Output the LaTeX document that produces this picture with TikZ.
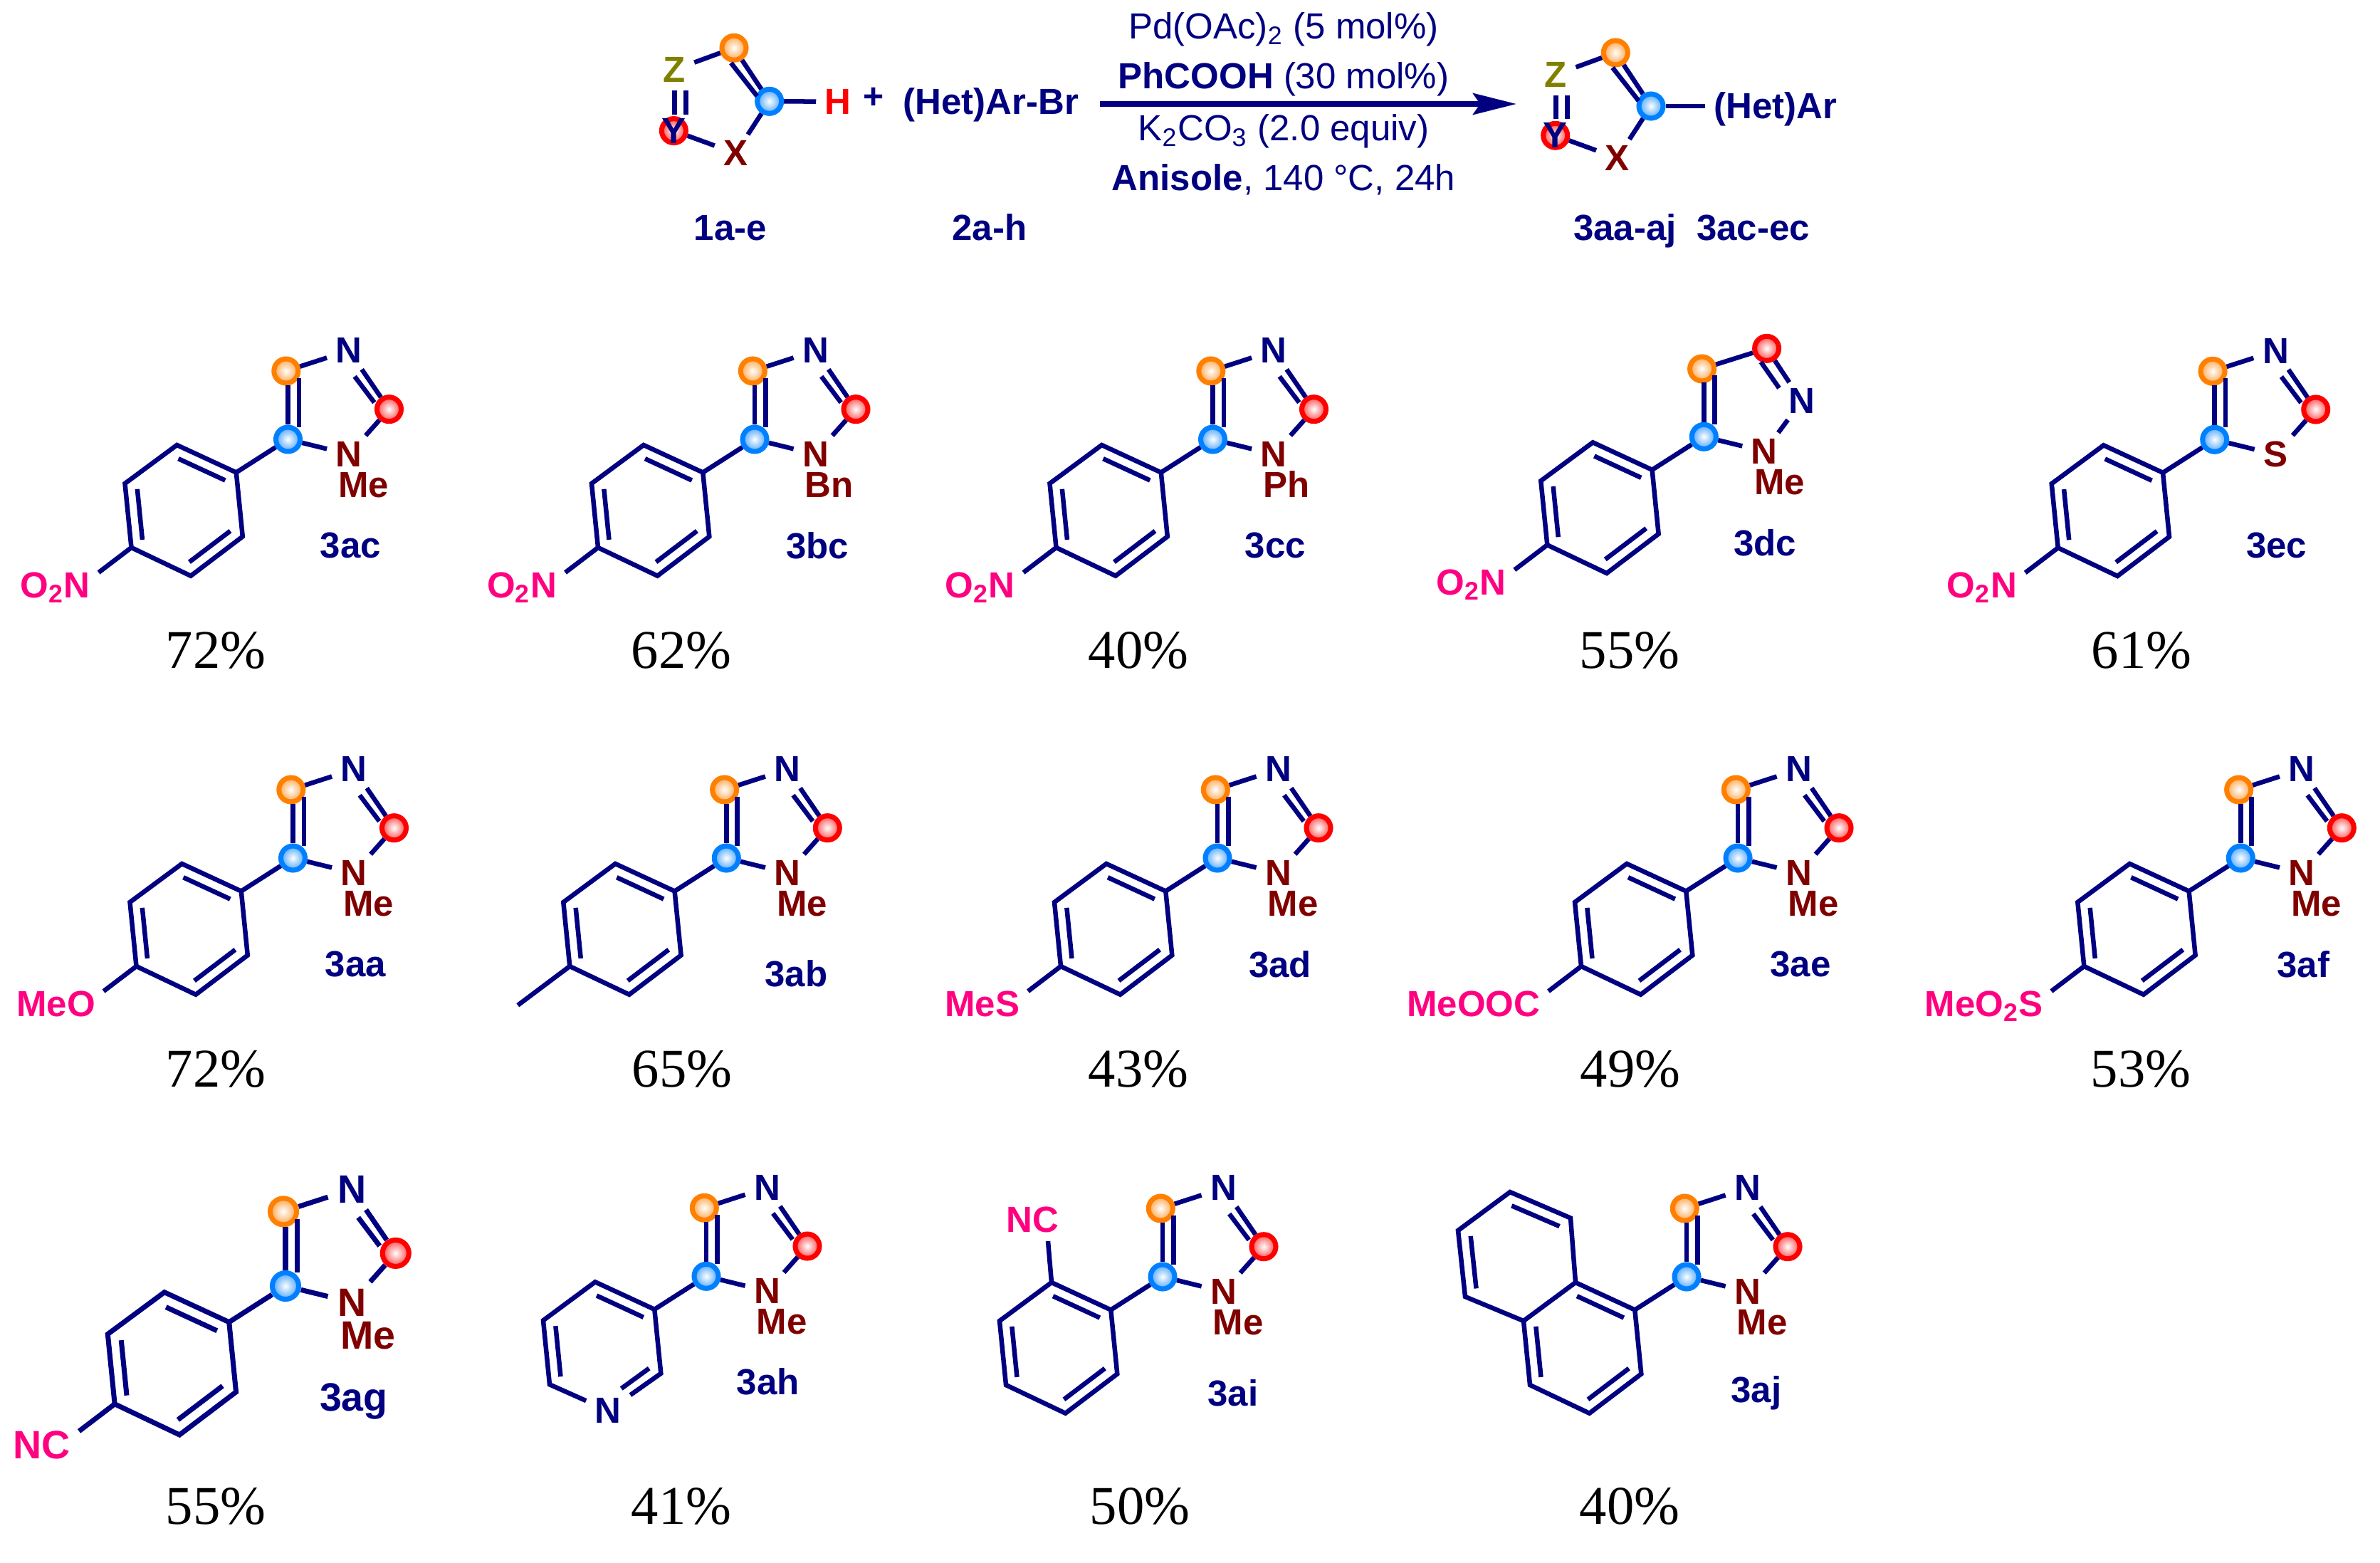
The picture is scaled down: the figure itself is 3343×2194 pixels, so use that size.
\documentclass[tikz,border=0pt]{standalone}
\usepackage{fontspec}
\setmainfont{Liberation Sans}
\newfontfamily\yieldfont{Liberation Serif}
\usetikzlibrary{arrows.meta,calc}

\definecolor{inkblue}{RGB}{0,0,128}
\definecolor{darkred}{RGB}{128,0,0}
\definecolor{hotpink}{RGB}{255,0,128}
\definecolor{olivez}{RGB}{128,128,0}
\definecolor{ballO}{RGB}{255,128,0}
\definecolor{ballB}{RGB}{0,128,255}
\definecolor{ballR}{RGB}{255,0,0}

\tikzset{
  bond/.style={inkblue, line width=1.85pt},
  txt/.style={font=\fontsize{14.5}{16}\selectfont},
  atom/.style={txt, font=\fontsize{14.5}{16}\selectfont\bfseries, inner xsep=3.4pt, inner ysep=2.3pt, transform shape},
  atomN/.style={atom, text=inkblue},
  atomR/.style={atom, text=darkred},
  subst/.style={atom, text=hotpink, anchor=base east, inner sep=0pt},
  cmpd/.style={atom, text=inkblue, inner sep=0pt},
  yield/.style={font=\yieldfont\fontsize{21.8}{24}\selectfont, anchor=base, inner sep=0pt},
  reagent/.style={txt, text=inkblue, anchor=base, inner sep=0pt},
  ball/.style={circle, inner sep=0pt, minimum size=.34cm, line width=2pt, transform shape},
  ballorange/.style={ball, draw=ballO, inner color=white, outer color=ballO!70},
  ballblue/.style={ball, draw=ballB, inner color=white, outer color=ballB!70},
  ballred/.style={ball, draw=ballR, inner color=white, outer color=ballR!70},
}

% five ring, blue atom at the origin of the scope
\newcommand{\azole}[2]{
  \node[ballorange] (#1-or) at (-2.7,-96) {};
  \node[ballblue] (#1-bl) at (0,0) {};
  \node[ballred] (#1-rd) at (142,-42.3) {};
  \node[atomN] (#1-nt) at (85.7,-124.6) {N};
  \node[atomR] (#1-nb) at (85.7,21) {#2};
  \coordinate (#1-a) at (0,-76);
  \coordinate (#1-b) at (15.3,-86.3);
  \coordinate (#1-c) at (15.3,-17.3);
  \coordinate (#1-d) at (93.7,-88.3);
  \coordinate (#1-e) at (121.3,-51.7);
  \draw[bond] (#1-or) -- (#1-nt);
  \draw[bond] (#1-nt) -- (#1-rd);
  \draw[bond] (#1-d) -- (#1-e);
  \draw[bond] (#1-rd) -- (#1-nb);
  \draw[bond] (#1-bl) -- (#1-nb);
  \draw[bond] (#1-bl) -- (#1-a);
  \draw[bond] (#1-b) -- (#1-c);
}

% six ring coordinates, shared by the aryl groups
\newcommand{\ringpts}[1]{
  \coordinate (#1-r1) at (-72.7,46.5);
  \coordinate (#1-r2) at (-156,8);
  \coordinate (#1-r3) at (-229,62);
  \coordinate (#1-r4) at (-220,152);
  \coordinate (#1-r5) at (-136.5,191.7);
  \coordinate (#1-r6) at (-63.7,136.5);
  \coordinate (#1-m) at ($(#1-r1)!.5!(#1-r4)$);
  \draw[bond] (#1-bl) -- (#1-r1);
}
% inner line of a double bond, pulled towards the ring centre
\newcommand{\dbl}[3]{
  \draw[bond] ($(#1)!.21!(#3)$) -- ($(#2)!.21!(#3)$);
}
\newcommand{\arene}[1]{
  \ringpts{#1}
  \draw[bond, line join=miter] (#1-r1) -- (#1-r2) -- (#1-r3) -- (#1-r4) -- (#1-r5) -- (#1-r6) -- cycle;
  \dbl{#1-r1}{#1-r2}{#1-m}
  \dbl{#1-r3}{#1-r4}{#1-m}
  \dbl{#1-r5}{#1-r6}{#1-m}
}
% whole product: [scope options]{id}{x}{y}{on N}{substituent}{label}
\newcommand{\product}[7][]{
  \begin{scope}[shift={(#3,#4)},#1]
    \azole{#2}{N}
    \arene{#2}
    \node[atomR, anchor=base west, inner sep=0pt] (#2-me) at (70,81) {#5};
    \coordinate (#2-s) at (-266,187);
    \draw[bond] (#2-r4) -- (#2-s);
    \node[subst] (#2-sub) at (-277,222) {#6};
    \node[cmpd] (#2-lab) at (88,149) {#7};
  \end{scope}
}
% reaction partner with Z, Y, X letters
\newcommand{\generic}[3]{
  \begin{scope}[shift={(#2,#3)}]
    \node[ballorange] (#1-or) at (-49.7,-75) {};
    \node[ballblue] (#1-bl) at (0,0) {};
    \node[ballred] (#1-rd) at (-134.3,41.3) {};
    \node[atom, text=olivez] (#1-z) at (-133.7,-44.3) {Z};
    \node[atomN] (#1-y) at (-134.3,41.3) {Y};
    \node[atomR] (#1-x) at (-47.3,73) {X};
    \coordinate (#1-a) at (-54,-54);
    \coordinate (#1-b) at (-17.3,-7.3);
    \coordinate (#1-c) at (-133.3,-15);
    \coordinate (#1-d) at (-133.3,18.3);
    \coordinate (#1-e) at (-117.3,-15);
    \coordinate (#1-f) at (-117.3,18.3);
    \draw[bond] (#1-or) -- (#1-z);
    \draw[bond] (#1-or) -- (#1-bl);
    \draw[bond] (#1-a) -- (#1-b);
    \draw[bond] (#1-c) -- (#1-d);
    \draw[bond] (#1-e) -- (#1-f);
    \draw[bond] (#1-rd) -- (#1-x);
    \draw[bond] (#1-bl) -- (#1-x);
  \end{scope}
}

\begin{document}
\begin{tikzpicture}[x=0.01cm,y=-0.01cm]
  \useasboundingbox (0,0) rectangle (3343,2194);

  % reaction
  \generic{sm}{1080.7}{142.3}
  \node[atom, text=ballR] (sm-h) at (1177.3,142.7) {H};
  \draw[bond] (sm-bl) -- (sm-h);
  \node[txt, text=inkblue, font=\bfseries\fontsize{14.2}{16}\selectfont, inner sep=0pt] (plus) at (1226.7,138) {+};
  \node[cmpd] (arbr) at (1392,147) {(Het)Ar-Br};
  \coordinate (arr-a) at (1545,146);
  \coordinate (arr-b) at (2130,146);
  \draw[-{Stealth[length=.61cm,width=.3cm,inset=.1cm]}, inkblue, line width=2pt] (arr-a) -- (arr-b);
  \node[reagent] (cat) at (1803,55) {Pd(OAc)\textsubscript{2} (5 mol\%)};
  \node[reagent] (acid) at (1803,125) {\textbf{PhCOOH} (30 mol\%)};
  \node[reagent] (base) at (1803,198) {K\textsubscript{2}CO\textsubscript{3} (2.0 equiv)};
  \node[reagent] (solv) at (1803,268) {\textbf{Anisole}, 140 °C, 24h};
  \generic{pr}{2319}{149}
  \node[atomN, anchor=base west] (pr-ar) at (2395,167) {(Het)Ar};
  \draw[bond] (pr-bl) -- (pr-bl -| pr-ar.west);
  \node[cmpd, anchor=base] (sm-lab) at (1026,337) {1a-e};
  \node[cmpd, anchor=base] (br-lab) at (1390,337) {2a-h};
  \node[cmpd, anchor=base] (pr-lab) at (2376,337) {3aa-aj~~3ac-ec};

  % first row
  \product{ac}{404.5}{617}{Me}{O\textsubscript{2}N}{3ac}
  \product{bc}{1060}{617}{Bn}{O\textsubscript{2}N}{3bc}
  \product{cc}{1703.5}{617}{Ph}{O\textsubscript{2}N}{3cc}
  \begin{scope}[shift={(2393.3,613.3)}]
    \node[ballorange] (dc-or) at (-2.7,-95.3) {};
    \node[ballblue] (dc-bl) at (0,0) {};
    \node[ballred] (dc-rd) at (88.3,-124) {};
    \node[atomN] (dc-nt) at (137.4,-50) {N};
    \node[atomR] (dc-nb) at (85,20.7) {N};
    \coordinate (dc-a) at (0,-76);
    \coordinate (dc-b) at (15.3,-86.3);
    \coordinate (dc-c) at (15.3,-17.3);
    \coordinate (dc-d) at (80,-105);
    \coordinate (dc-e) at (105.7,-68.3);
    \draw[bond] (dc-or) -- (dc-rd);
    \draw[bond] (dc-rd) -- (dc-nt);
    \draw[bond] (dc-d) -- (dc-e);
    \draw[bond] (dc-nt) -- (dc-nb);
    \draw[bond] (dc-bl) -- (dc-nb);
    \draw[bond] (dc-bl) -- (dc-a);
    \draw[bond] (dc-b) -- (dc-c);
    \arene{dc}
    \node[atomR, anchor=base west, inner sep=0pt] (dc-me) at (70,81) {Me};
    \coordinate (dc-s) at (-266,187);
    \draw[bond] (dc-r4) -- (dc-s);
    \node[subst] (dc-sub) at (-277,222) {O\textsubscript{2}N};
    \node[cmpd] (dc-lab) at (86,149) {3dc};
  \end{scope}
  \begin{scope}[shift={(3110.7,617.3)}]
    \azole{ec}{S}
    \arene{ec}
    \coordinate (ec-s) at (-266,187);
    \draw[bond] (ec-r4) -- (ec-s);
    \node[subst] (ec-sub) at (-277,222) {O\textsubscript{2}N};
    \node[cmpd] (ec-lab) at (87,149) {3ec};
  \end{scope}

  % second row
  \product{aa}{411.5}{1205}{Me}{MeO}{3aa}
  \begin{scope}[shift={(1020.3,1205)}]
    \azole{ab}{N}
    \arene{ab}
    \node[atomR, anchor=base west, inner sep=0pt] (ab-me) at (70,81) {Me};
    \coordinate (ab-s) at (-293,206.7);
    \draw[bond] (ab-r4) -- (ab-s);
    \node[cmpd] (ab-lab) at (98,162) {3ab};
  \end{scope}
  \product{ad}{1710}{1205}{Me}{MeS}{3ad}
  \product{ae}{2441}{1205}{Me}{MeOOC}{3ae}
  \product{af}{3147.3}{1205}{Me}{MeO\textsubscript{2}S}{3af}

  % third row
  \product[scale=1.09, bond/.append style={line width=2pt}]{ag}{401}{1806}{Me}{NC}{3ag}
  \begin{scope}[shift={(992,1792.3)}]
    \azole{ah}{N}
    \ringpts{ah}
    \node[atomN] (ah-py) at (-137.7,188.7) {N};
    \draw[bond, line join=miter] (ah-py) -- (ah-r4) -- (ah-r3) -- (ah-r2) -- (ah-r1) -- (ah-r6) -- (ah-py);
    \dbl{ah-r1}{ah-r2}{ah-m}
    \dbl{ah-r3}{ah-r4}{ah-m}
    \coordinate (ah-f) at (-80.3,129.3);
    \coordinate (ah-g) at (-119.3,157.7);
    \draw[bond] (ah-f) -- (ah-g);
    \node[atomR, anchor=base west, inner sep=0pt] (ah-me) at (70,81) {Me};
    \node[cmpd] (ah-lab) at (86.7,148.4) {3ah};
  \end{scope}
  \begin{scope}[shift={(1633,1793)}]
    \azole{ai}{N}
    \arene{ai}
    \node[atomR, anchor=base west, inner sep=0pt] (ai-me) at (70,81) {Me};
    \coordinate (ai-s) at (-161,-50);
    \draw[bond] (ai-r2) -- (ai-s);
    \node[atom, text=hotpink, inner sep=0pt] (ai-sub) at (-183,-80) {NC};
    \node[cmpd] (ai-lab) at (99,163) {3ai};
  \end{scope}
  \begin{scope}[shift={(2369,1793)}]
    \azole{aj}{N}
    \arene{aj}
    \node[atomR, anchor=base west, inner sep=0pt] (aj-me) at (70,81) {Me};
    \coordinate (aj-t1) at (-163,-82.5);
    \coordinate (aj-t2) at (-248,-119);
    \coordinate (aj-t3) at (-321,-65);
    \coordinate (aj-t4) at (-311,28);
    \coordinate (aj-n) at ($(aj-t1)!.5!(aj-t4)$);
    \draw[bond, line join=miter] (aj-r2) -- (aj-t1) -- (aj-t2) -- (aj-t3) -- (aj-t4) -- (aj-r3);
    \dbl{aj-t1}{aj-t2}{aj-n}
    \dbl{aj-t3}{aj-t4}{aj-n}
    \node[cmpd] (aj-lab) at (98,163) {3aj};
  \end{scope}

  % yields
  \node[yield] (y-ac) at (303,938) {72\%};
  \node[yield] (y-bc) at (957,938) {62\%};
  \node[yield] (y-cc) at (1599,938) {40\%};
  \node[yield] (y-dc) at (2289,938) {55\%};
  \node[yield] (y-ec) at (3008,938) {61\%};
  \node[yield] (y-aa) at (303,1526) {72\%};
  \node[yield] (y-ab) at (958,1526) {65\%};
  \node[yield] (y-ad) at (1599,1526) {43\%};
  \node[yield] (y-ae) at (2290,1526) {49\%};
  \node[yield] (y-af) at (3007,1526) {53\%};
  \node[yield] (y-ag) at (303,2140) {55\%};
  \node[yield] (y-ah) at (957,2140) {41\%};
  \node[yield] (y-ai) at (1601,2140) {50\%};
  \node[yield] (y-aj) at (2289,2140) {40\%};
\end{tikzpicture}
\end{document}
